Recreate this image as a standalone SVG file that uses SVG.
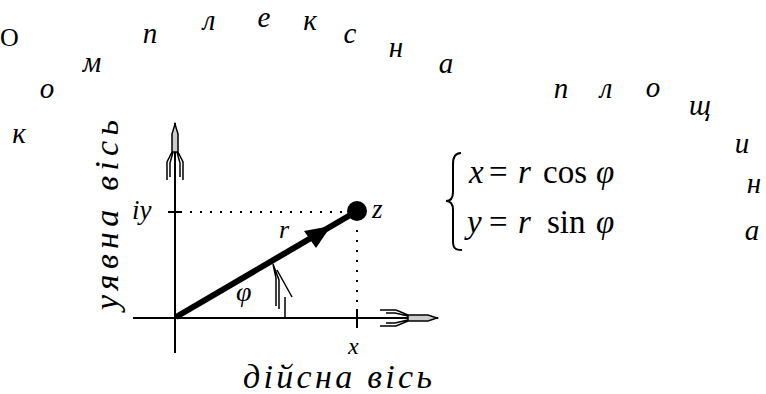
<svg xmlns="http://www.w3.org/2000/svg" width="766" height="394" viewBox="0 0 766 394">
<style>
.cur{font-family:"Liberation Serif","Times New Roman",serif;font-style:italic;fill:#000;}
.arc{font-size:29px;text-anchor:middle;}
.math{font-family:"Liberation Serif","Times New Roman",serif;font-size:33px;fill:#000;}
.it{font-style:italic;}
.ax{stroke:#000;stroke-width:2;fill:none;}
.dot{stroke:#000;stroke-width:2;stroke-dasharray:2 8;fill:none;}
.hd{stroke:#000;stroke-width:1.5;fill:none;}
</style>
<rect width="766" height="394" fill="#fff"/>
<g id="title-arc">
<text x="0" y="46" style="font-family:'Liberation Serif',serif;font-size:26px">O</text>
<text class="cur arc" x="19" y="143">к</text>
<text class="cur arc" x="47" y="98">о</text>
<text class="cur arc" x="92" y="72">м</text>
<text class="cur arc" x="150" y="43">п</text>
<text class="cur arc" x="209" y="30">л</text>
<text class="cur arc" x="264" y="27">е</text>
<text class="cur arc" x="310" y="30">к</text>
<text class="cur arc" x="350" y="43">с</text>
<text class="cur arc" x="396" y="57">н</text>
<text class="cur arc" x="446" y="73">а</text>
<text class="cur arc" x="561" y="98">п</text>
<text class="cur arc" x="606" y="98">л</text>
<text class="cur arc" x="653" y="97">о</text>
<text class="cur arc" x="700" y="115">щ</text>
<text class="cur arc" x="742" y="153">и</text>
<text class="cur arc" x="754" y="193">н</text>
<text class="cur arc" x="752" y="240">а</text>
</g>
<g id="axes">
<line class="ax" x1="175" y1="123" x2="175" y2="353"/>
<line class="ax" x1="133" y1="318" x2="438" y2="318"/>
<path d="M172,152 L172,134 L175,124 L178,134 L178,152 Z" fill="#ccc" stroke="#000" stroke-width="1.5"/>
<path class="hd" d="M172,152 L167,162 L167,180 M173,152 L170,163 L170,177 M178,152 L183,162 L183,180 M177,152 L180,163 L180,177"/>
<path d="M408,315 L428,315 L437,318 L428,321 L408,321 Z" fill="#ccc" stroke="#000" stroke-width="1.5"/>
<path class="hd" d="M408,315 L396,310 L380,310 M408,316 L395,313 L386,313 M408,321 L396,326 L380,326 M408,320 L395,323 L386,323"/>
<line class="ax" x1="168" y1="212" x2="182" y2="212"/>
<line class="ax" x1="357" y1="309" x2="357" y2="328"/>
</g>
<g id="guides">
<line class="dot" x1="190" y1="212" x2="345" y2="212"/>
<line class="dot" x1="357" y1="230" x2="357" y2="308"/>
</g>
<g id="vector">
<line x1="176" y1="317" x2="352" y2="214" stroke="#000" stroke-width="6"/>
<polygon points="331,226 304,231 316,248" fill="#000"/>
<circle cx="357" cy="211" r="10" fill="#000"/>
</g>
<g id="angle">
<path class="hd" d="M273,264 L276,278 L276,306 M273,264 L279,280 L279,309 M277,270 L292,297 M285,297 L285,318"/>
</g>
<g id="labels">
<text class="cur" x="132" y="219" style="font-size:27px">iy</text>
<text class="cur" x="372" y="218" style="font-size:27px">z</text>
<text class="cur" x="279" y="238" style="font-size:26px">r</text>
<text class="cur" x="236" y="301" style="font-size:28px">φ</text>
<text class="cur" x="348" y="354" style="font-size:24px">x</text>
<text class="cur" x="243" y="388" style="font-size:34px" textLength="189" lengthAdjust="spacing">дійсна вісь</text>
<text class="cur" x="118" y="310" transform="rotate(-90 118 310)" style="font-size:34px" textLength="190" lengthAdjust="spacing">уявна вісь</text>
</g>
<g id="formula">
<path class="ax" d="M461,153 C455,153 453,157 453,164 L453,192 C453,198 451,201 446,201 C451,201 453,204 453,210 L453,241 C453,248 455,250 462,250"/>
<text class="math" y="183"><tspan class="it" x="469">x</tspan><tspan x="489">=</tspan><tspan class="it" x="518">r</tspan><tspan x="543">cos</tspan><tspan class="it" x="596">φ</tspan></text>
<text class="math" y="233"><tspan class="it" x="467">y</tspan><tspan x="489">=</tspan><tspan class="it" x="518">r</tspan><tspan x="547">sin</tspan><tspan class="it" x="596">φ</tspan></text>
</g>
</svg>
